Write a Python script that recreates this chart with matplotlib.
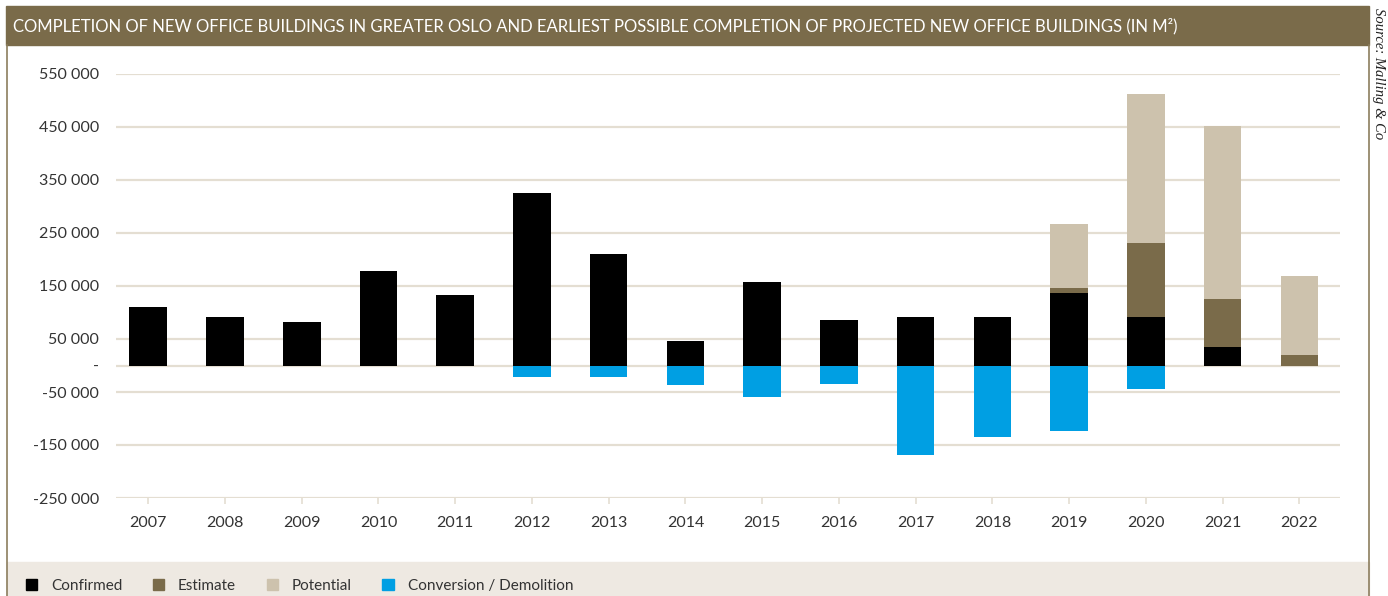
import matplotlib.pyplot as plt
from matplotlib.patches import Rectangle, Patch
import numpy as np

years = ["2007", "2008", "2009", "2010", "2011", "2012", "2013", "2014",
         "2015", "2016", "2017", "2018", "2019", "2020", "2021", "2022"]
confirmed = [110000, 91500, 82000, 178000, 133000, 325000, 210000, 46000,
             157500, 86000, 91500, 91500, 137000, 91500, 35000, 0]
estimate = [0, 0, 0, 0, 0, 0, 0, 0, 0, 0, 0, 0, 9000, 139500, 90500, 20000]
potential = [0, 0, 0, 0, 0, 0, 0, 0, 0, 0, 0, 0, 121000, 281000, 326500, 149000]
conversion = [0, 0, 0, 0, 0, -21700, -21700, -36800, -59400, -35000,
              -169000, -135000, -124000, -44000, 0, 0]
yticks = [550000, 450000, 350000, 250000, 150000, 50000, 0, -50000, -150000, -250000]

c_conf = "#000000"
c_est = "#7a6b4a"
c_pot = "#cdc2ad"
c_conv = "#009fe3"
c_grid = "#e4ded2"
c_text = "#333333"
c_border = "#8c7e5e"

plt.rcParams['font.family'] = ['Lato', 'DejaVu Sans']

fig = plt.figure(figsize=(13.88, 5.96), dpi=100)
ax = fig.add_axes([116/1388, 1-498/596, (1340-116)/1388, (498-74)/596])

x = np.arange(len(years))
conf = np.array(confirmed)
est = np.array(estimate)
ax.bar(x, confirmed, width=0.49, color=c_conf, zorder=3)
ax.bar(x, estimate, width=0.49, bottom=conf, color=c_est, zorder=3)
ax.bar(x, potential, width=0.49, bottom=conf+est, color=c_pot, zorder=3)
ax.bar(x, conversion, width=0.49, color=c_conv, zorder=3)

ax.set_xlim(-0.42, 15.53)
ax.set_ylim(-250000, 550000)
ax.set_yticks(yticks)
ax.set_yticklabels(["-" if v == 0 else f"{v:,}".replace(",", " ") for v in yticks])
ax.set_xticks(x)
ax.set_xticklabels(years)
ax.grid(axis="y", color=c_grid, linewidth=1.6, zorder=0)
for s in ax.spines.values():
    s.set_visible(False)
ax.tick_params(axis="y", length=0, pad=12, labelsize=11.5, labelcolor=c_text)
ax.tick_params(axis="x", length=4, width=1.2, color=c_grid, pad=9,
               labelsize=11.5, labelcolor=c_text)

# title bar
fig.patches.append(Rectangle((6/1388, 1-45/596), (1369-6)/1388, 39/596,
                             transform=fig.transFigure, color=c_est, zorder=0))
fig.text(13/1388, 1-26/596,
         "COMPLETION OF NEW OFFICE BUILDINGS IN GREATER OSLO AND EARLIEST POSSIBLE "
         "COMPLETION OF PROJECTED NEW OFFICE BUILDINGS (IN M²)",
         color="white", fontsize=12, va="center", ha="left")

# frame lines
fig.add_artist(plt.Line2D([7/1388, 7/1388], [0, 1-45/596], color=c_border,
                          linewidth=1.2, transform=fig.transFigure))
fig.add_artist(plt.Line2D([1369/1388, 1369/1388], [0, 1-45/596], color=c_border,
                          linewidth=1.2, transform=fig.transFigure))

# legend band
fig.patches.append(Rectangle((7/1388, 0), (1369-7)/1388, 34/596,
                             transform=fig.transFigure, color="#eee9e2", zorder=0))
handles = [Patch(color=c_conf, label="Confirmed"),
           Patch(color=c_est, label="Estimate"),
           Patch(color=c_pot, label="Potential"),
           Patch(color=c_conv, label="Conversion / Demolition")]
fig.legend(handles=handles, loc="center left", bbox_to_anchor=(12/1388, 10/596),
           ncol=4, frameon=False, fontsize=11, handlelength=0.75,
           handleheight=0.75, handletextpad=0.9, columnspacing=2.0,
           labelcolor=c_text)

fig.text(1379/1388, 1-8/596, "Source: Malling & Co", rotation=-90, ha="center",
         va="top", fontsize=10.5, style="italic", family="Liberation Serif",
         color="#222222")

plt.savefig("out.png", dpi=100)
